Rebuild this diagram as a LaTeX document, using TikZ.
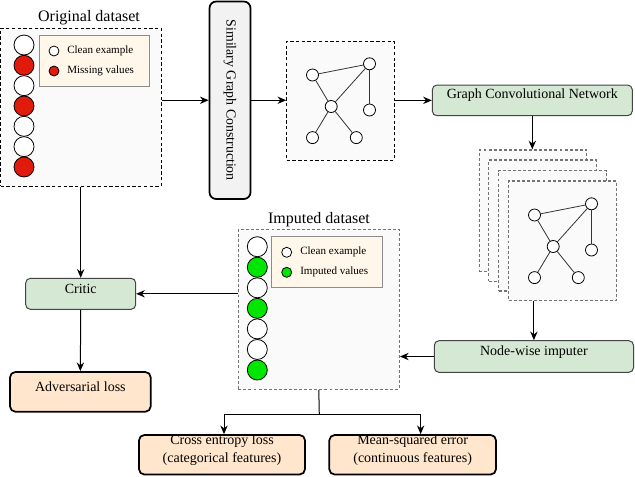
\documentclass[tikz,border=0pt]{standalone}
\usepackage{fontspec}
\setmainfont{Liberation Serif}
\usetikzlibrary{arrows.meta,fit}
\definecolor{gfill}{HTML}{D5E8D4}
\definecolor{ofill}{HTML}{FFE6CC}
\definecolor{sfill}{HTML}{F2F2F2}
\definecolor{lfill}{HTML}{FFF8EA}
\definecolor{dfill}{HTML}{FAFAFA}
\definecolor{mred}{HTML}{E01B0B}
\definecolor{mgreen}{HTML}{00E600}
\definecolor{bord}{HTML}{444444}
\tikzset{
  arr/.style={-{Stealth[length=6.5pt,width=5.5pt]}, line width=0.75pt},
  greenbox/.style={draw=bord, fill=gfill, rounded corners=3.5pt, line width=0.75pt, inner sep=0pt, font=\fontsize{10.5}{13.5}\selectfont},
  orangebox/.style={draw=black, fill=ofill, rounded corners=4pt, line width=1.3pt, inner sep=0pt, font=\fontsize{10.5}{13.5}\selectfont, align=center},
  sgcbox/.style={draw=black, fill=sfill, rounded corners=5pt, line width=1.3pt, inner sep=0pt},
  dsbox/.style={draw=black, fill=dfill, dash pattern=on 2.5pt off 1.8pt, line width=0.75pt, inner sep=0pt},
  dsgray/.style={draw=black!55, fill=dfill, dash pattern=on 2.2pt off 1.6pt, line width=1pt, inner sep=0pt},
  legbox/.style={draw=black!45, fill=lfill, line width=0.75pt, inner sep=0pt},
  bigdot/.style={circle, draw=black, line width=0.6pt, minimum size=15pt, inner sep=0pt},
  legdot/.style={circle, draw=black, line width=0.6pt, minimum size=7.5pt, inner sep=0pt},
  legtext/.style={anchor=west, inner sep=0pt, font=\fontsize{8.3}{10}\selectfont},
  gnode/.style={circle, draw=black, fill=white, line width=0.6pt, minimum size=9pt, inner sep=0pt},
  gedge/.style={line width=0.6pt, draw=black!80},
  title/.style={inner sep=0pt, font=\fontsize{12}{14}\selectfont}
}
\newcommand{\mygraph}[1]{%
  \node[gnode] (#1a) at (25.8,34) {};
  \node[gnode] (#1b) at (82.8,22.8) {};
  \node[gnode] (#1c) at (44.5,65.5) {};
  \node[gnode] (#1d) at (82.8,69) {};
  \node[gnode] (#1e) at (25.8,96.6) {};
  \node[gnode] (#1f) at (69.6,96.6) {};
  \draw[gedge] (#1a) -- (#1b);
  \draw[gedge] (#1a) -- (#1c);
  \draw[gedge] (#1b) -- (#1c);
  \draw[gedge] (#1b) -- (#1d);
  \draw[gedge] (#1c) -- (#1e);
  \draw[gedge] (#1c) -- (#1f);
}
\begin{document}
\begin{tikzpicture}[x=0.75pt,y=-0.75pt]
\useasboundingbox (0,0) rectangle (635,476);
\fill[white] (0,0) rectangle (635,476);

% Original dataset
\node[title] (dstitle) at (89,18) {Original dataset};
\node[dsbox, fit={(0.5,28) (161,186)}] (ds) {};
\foreach \i/\c in {0/white,1/mred,2/white,3/mred,4/white,5/white,6/mred}{
  \node[bigdot, fill=\c] (o\i) at (24,{45+20.33*\i}) {};
}
\node[legbox, fit={(39,35) (149,86)}] (leg1) {};
\node[legdot, fill=white] (l1a) at (54,51) {};
\node[legtext] (l1at) at (67,51) {Clean example};
\node[legdot, fill=mred] (l1b) at (54,71) {};
\node[legtext] (l1bt) at (67,71) {Missing values};

% SGC
\node[sgcbox, fit={(209.5,1.5) (250.5,199)}] (sgc) {};
\node[rotate=-90, inner sep=0pt, font=\fontsize{10.4}{12}\selectfont] (sgct) at (sgc.center) {Similary Graph Construction};

% Graph box
\node[dsbox, fit={(286.7,41) (394,160)}] (gbox) {};
\begin{scope}[shift={(286.7,41)}]
\mygraph{g}
\end{scope}

% GCN
\node[greenbox, fit={(432.3,85) (632.3,115.7)}] (gcn) {Graph Convolutional Network};

% Stack
\node[dsgray, fit={(479.3,150) (586.7,271.7)}] (st1) {};
\node[dsgray, fit={(488.7,160) (596.7,281.5)}] (st2) {};
\node[dsgray, fit={(498.7,170.5) (606.7,291)}] (st3) {};
\node[dsgray, fit={(508.7,181) (616.7,300.7)}] (st4) {};
\begin{scope}[shift={(508.7,181)}]
\mygraph{h}
\end{scope}

% Node-wise imputer
\node[greenbox, fit={(434.3,340.7) (633.5,372.3)}] (nwi) {Node-wise imputer};

% Imputed dataset
\node[title] (imptitle) at (319,220) {Imputed dataset};
\node[dsgray, fit={(238.3,229.3) (399.3,389.3)}] (imp) {};
\foreach \i/\c in {0/white,1/mgreen,2/white,3/mgreen,4/white,5/white,6/mgreen}{
  \node[bigdot, fill=\c] (p\i) at (257.3,{246.7+20.55*\i}) {};
}
\node[legbox, fit={(271.7,236.7) (382.3,287.3)}] (leg2) {};
\node[legdot, fill=white] (l2a) at (286.7,252.3) {};
\node[legtext] (l2at) at (300,252.3) {Clean example};
\node[legdot, fill=mgreen] (l2b) at (286.7,272.3) {};
\node[legtext] (l2bt) at (300,272.3) {Imputed values};

% Critic
\node[greenbox, fit={(25.7,278.3) (135.7,309.3)}] (critic) {Critic};
% Adversarial loss
\node[orangebox, fit={(10,372) (150.7,411.7)}] (adv) {Adversarial loss};
% Cross entropy
\node[orangebox, fit={(139,435) (305,474.5)}] (ce) {Cross entropy loss\\(categorical features)};
% MSE
\node[orangebox, fit={(329.3,435) (496,474.5)}] (mse) {Mean-squared error\\(continuous features)};

% connectors
\draw[arr] (ds.east |- sgc.west) -- (sgc.west);
\draw[arr] (sgc.east) -- (gbox.west |- sgc.east);
\draw[arr] (gbox.east |- gcn.west) -- (gcn.west);
\draw[arr] (gcn.south) -- (gcn.south |- st1.north);
\draw[arr] (nwi.north |- st4.south) -- (nwi.north);
\draw[arr] (nwi.west) -- (nwi.west -| imp.east);
\draw[arr] (imp.west |- critic.east) -- (critic.east);
\draw[arr] (critic.north |- ds.south) -- (critic.north);
\draw[arr] (critic.south) -- (adv.north);
\coordinate (j) at (319.3,414.7);
\draw[line width=0.75pt] (imp.south) -- (j);
\draw[arr] (j) -| ([xshift=1.5pt]ce.north);
\draw[arr] (j) -| ([xshift=6pt]mse.north);
\end{tikzpicture}
\end{document}
